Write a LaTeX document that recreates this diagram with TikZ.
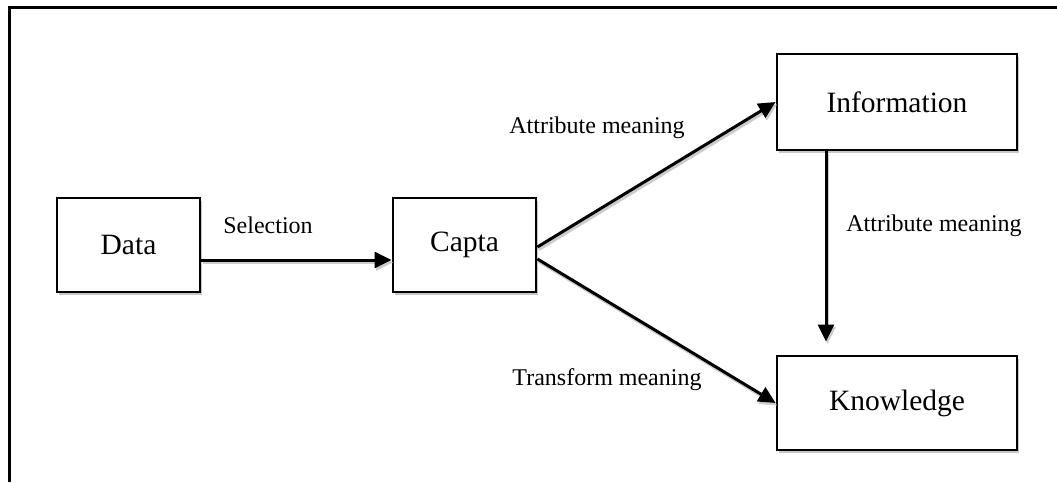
\documentclass[tikz,border=0pt]{standalone}
\usepackage{fontspec}
\setmainfont{Liberation Serif}
\usetikzlibrary{arrows.meta,shadows}
\begin{document}
\begin{tikzpicture}[x=1pt,y=-1pt,
  box/.style={draw, line width=2.8pt, fill=white, inner sep=0pt,
    font=\fontsize{29.5}{32}\selectfont,
    drop shadow={shadow xshift=2pt, shadow yshift=-3pt, fill=black!22, opacity=1}},
  lbl/.style={font=\fontsize{24}{28}\selectfont, inner sep=0pt},
  conn/.style={line width=3pt, -{Triangle[length=17pt,width=16pt]}},
  connshade/.style={conn, draw=black!20, transform canvas={shift={(1.5pt,-2.5pt)}}},
  frameline/.style={line width=3pt}]
\useasboundingbox (0,0) rectangle (1057,482);

% open frame: top and left edges only
\draw[frameline] (9,482) -- (9,7) -- (1057,7);

% boxes
\node[box, minimum width=143pt, minimum height=94pt] (data) at (128.5,245) {Data};
\node[box, minimum width=143pt, minimum height=94pt] (capta) at (464.5,245) {Capta};
\node[box, minimum width=240pt, minimum height=96pt] (info) at (897,102) {Information};
\node[box, minimum width=240pt, minimum height=94pt] (know) at (897,403) {Knowledge};

% connector shadows
\draw[connshade] ([yshift=-15pt]data.east) -- ([yshift=-15pt]capta.west);
\draw[connshade] ([yshift=-2pt]capta.east) -- (info.west);
\draw[connshade] ([yshift=-14pt]capta.east) -- (know.west);
\draw[connshade] ([xshift=-71pt]info.south) -- ([xshift=-71pt,yshift=13pt]know.north);

% connectors
\draw[conn] ([yshift=-15pt]data.east) -- ([yshift=-15pt]capta.west);
\draw[conn] ([yshift=-2pt]capta.east) -- (info.west);
\draw[conn] ([yshift=-14pt]capta.east) -- (know.west);
\draw[conn] ([xshift=-71pt]info.south) -- ([xshift=-71pt,yshift=13pt]know.north);

% connector labels
\node[lbl] (sel) at (268,225) {Selection};
\node[lbl] (am1) at (597,128) {Attribute meaning};
\node[lbl] (am2) at (934,226) {Attribute meaning};
\node[lbl] (tm) at (607,380) {Transform meaning};
\end{tikzpicture}
\end{document}
